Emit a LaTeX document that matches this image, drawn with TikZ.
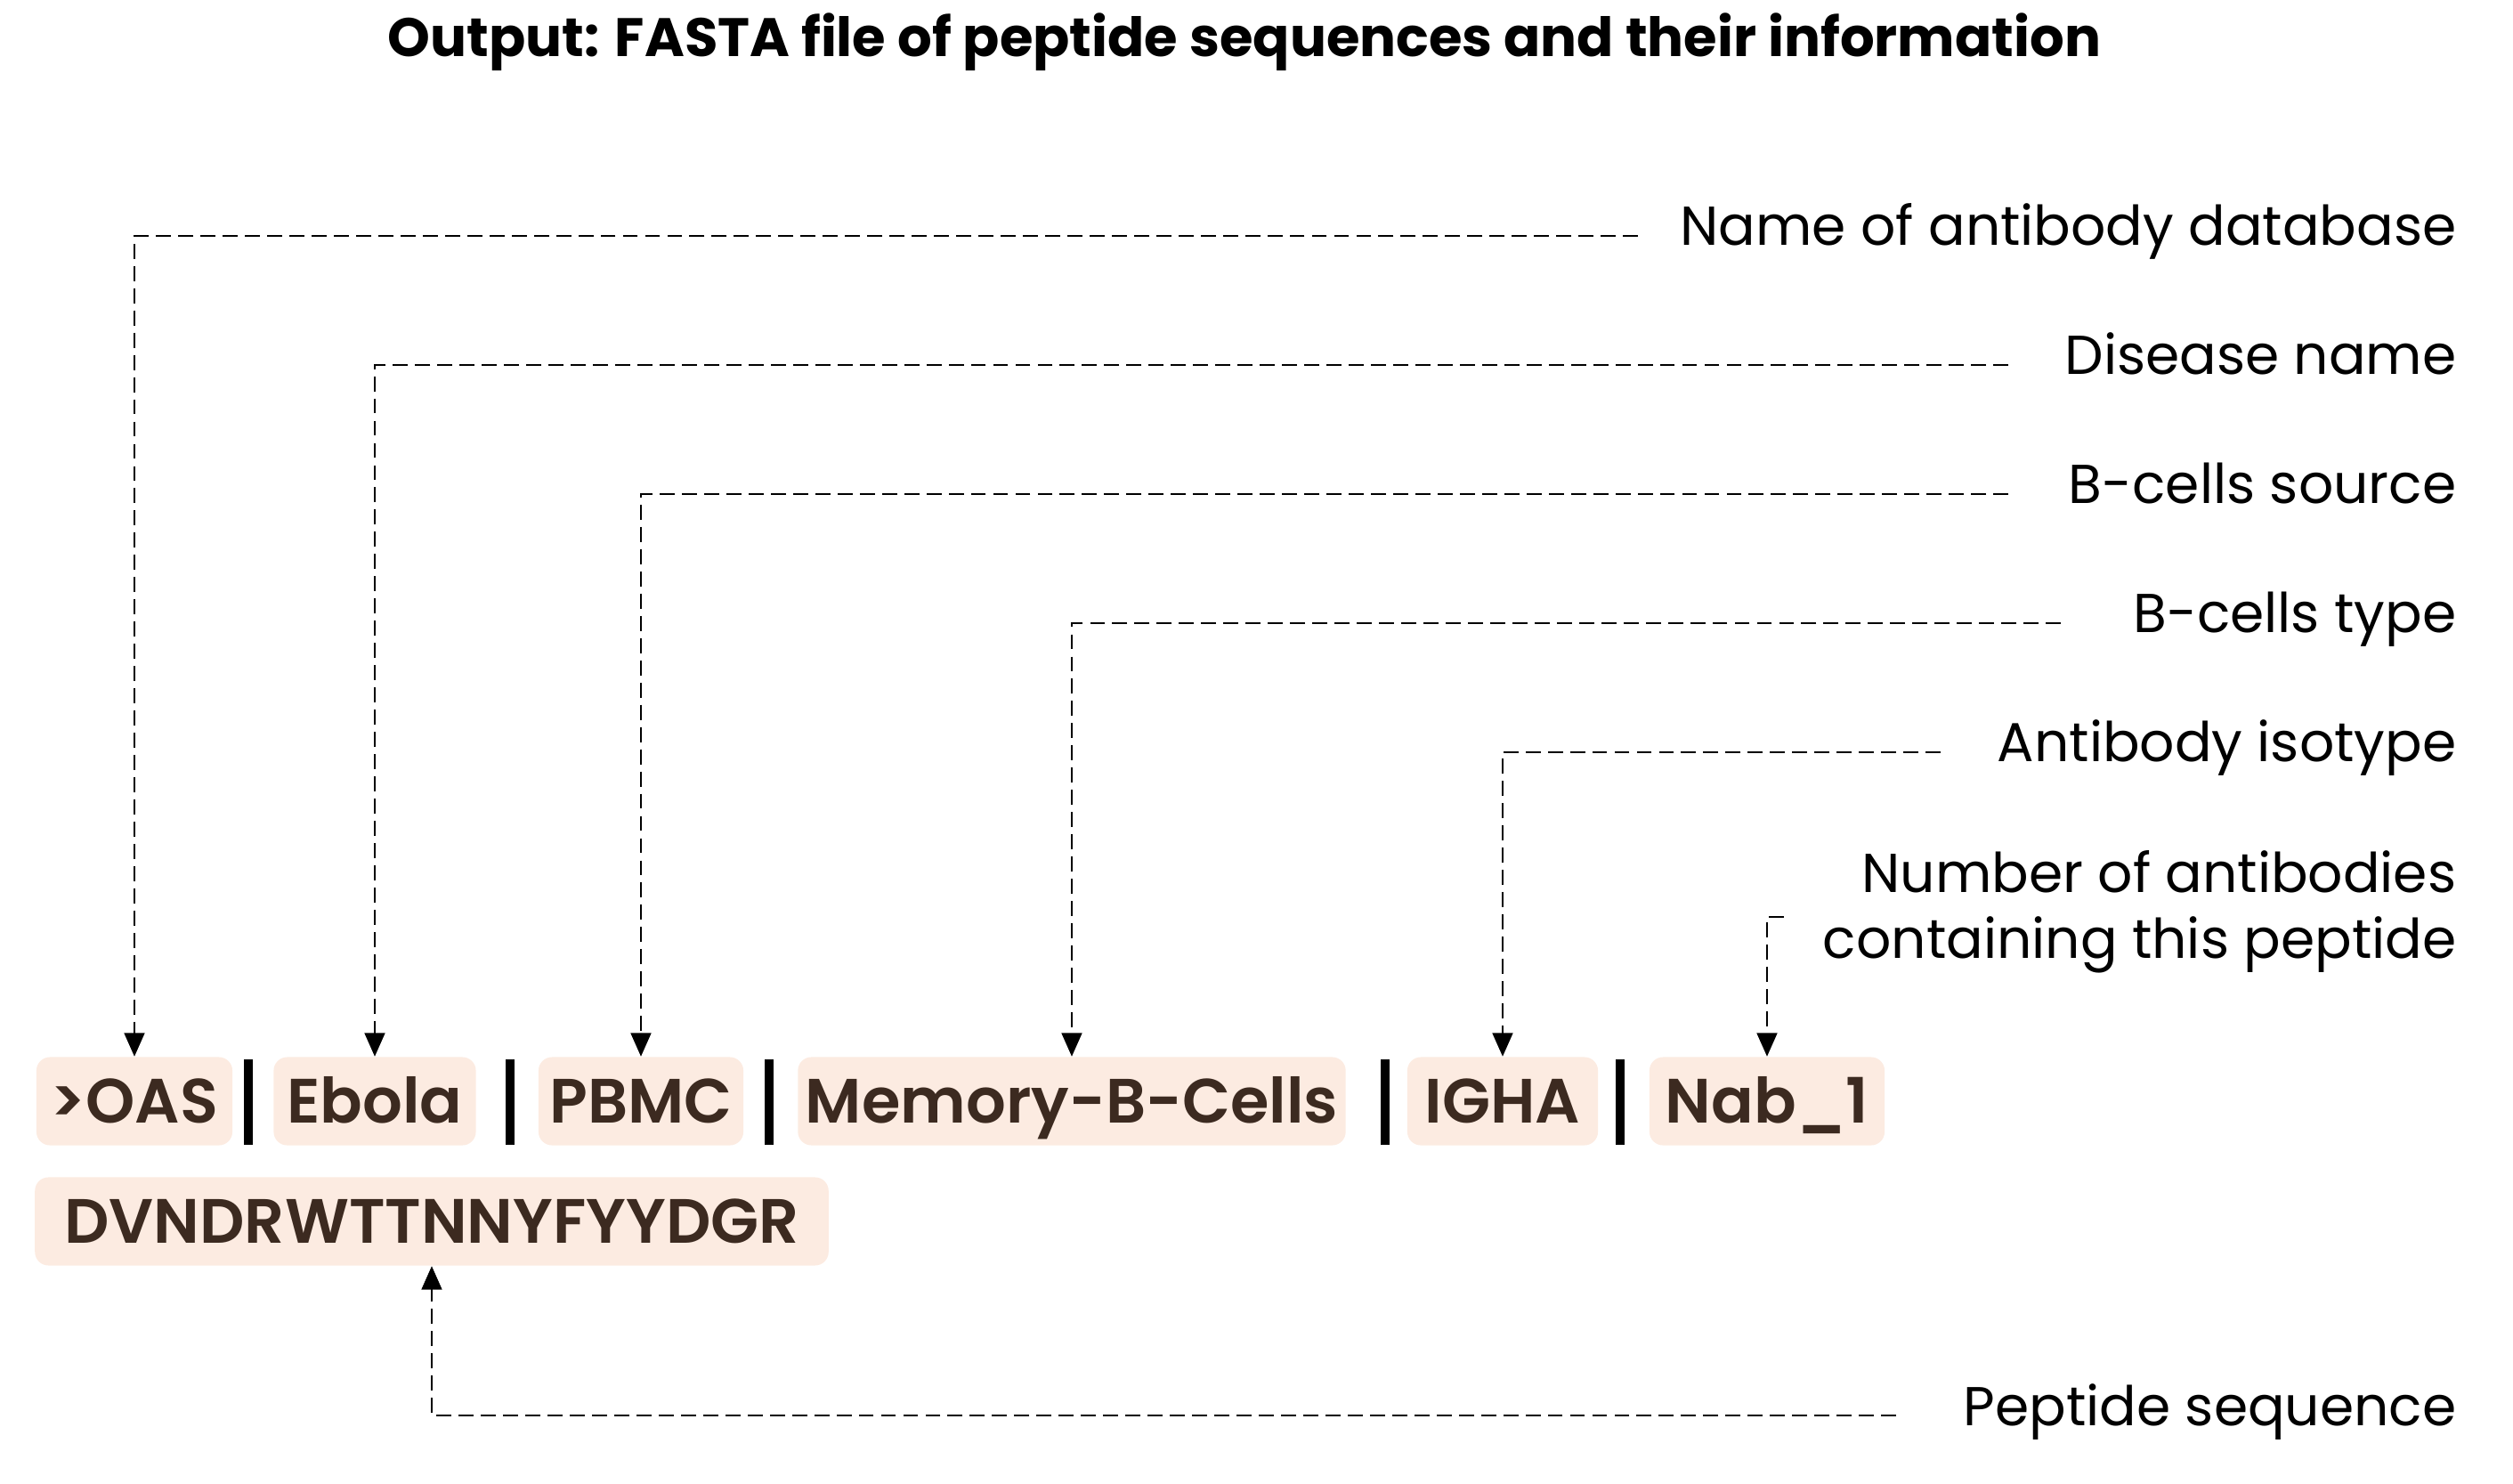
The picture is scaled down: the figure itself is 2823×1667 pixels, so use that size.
\documentclass[tikz,border=0pt]{standalone}
\usepackage{fontspec}
\setmainfont{Poppins}
\newfontfamily\semibold{Poppins}[UprightFont=* SemiBold]
\usepackage{xcolor}
\usetikzlibrary{arrows.meta,positioning,calc}
\definecolor{peach}{HTML}{FCEBE1}
\definecolor{cocoa}{HTML}{3C2A20}

\begin{document}
\begin{tikzpicture}[
    x=0.01cm, y=-0.01cm,
    >={Triangle[width=6.5pt,length=7.5pt]},
    field/.style={fill=peach, rounded corners=4.3pt, text=cocoa, font=\fontsize{20}{24}\semibold, minimum width=#1, minimum height=0.99cm, text height=14pt, text depth=0pt, inner xsep=0pt},
    lbl/.style={anchor=base east, font=\fontsize{17.5}{21}\selectfont, inner sep=0pt},
    ttl/.style={font=\fontsize{17.3}{20}\selectfont\bfseries},
    link/.style={draw=black, dash pattern=on 4.8pt off 2.3pt, line width=0.6pt, ->},
    bar/.style={line width=2.8pt}
]
\useasboundingbox (0,0) rectangle (2823,1667);

\node[ttl] (title) at (1398,47) {Output: FASTA file of peptide sequences and their information};

% fields of the FASTA header
\node[field=2.2cm] (oas) at (151,1237) {>OAS};
\node[field=2.27cm] (ebola) at (421,1237) {Ebola};
\node[field=2.3cm] (pbmc) at (720,1237) {PBMC};
\node[field=6.15cm] (memory) at (1204,1237) {Memory-B-Cells};
\node[field=2.14cm] (igha) at (1688,1237) {IGHA};
\node[field=2.64cm] (nab) at (1985,1237) {Nab\_1};
\node[field=8.91cm] (seq) at (485,1372) {DVNDRWTTNNYFYYDGR};

\foreach \bx in {279,573,864,1556,1820}
  \draw[bar] (\bx,1190) -- (\bx,1286);

% explanations
\node[lbl] (dbname) at (2760,276) {Name of antibody database};
\node[lbl] (disease) at (2760,421) {Disease name};
\node[lbl] (source) at (2760,566) {B-cells source};
\node[lbl] (celltype) at (2760,711) {B-cells type};
\node[lbl] (isotype) at (2760,856) {Antibody isotype};
\node[lbl, anchor=east, align=right] (count) at (2760,1024) {Number of antibodies\\containing this peptide};
\node[lbl] (peptide) at (2760,1601) {Peptide sequence};

\coordinate (dbname-end) at (1840,265);
\coordinate (disease-end) at (2256,410);
\coordinate (source-end) at (2256,555);
\coordinate (celltype-end) at (2315,700);
\coordinate (isotype-end) at (2180,845);
\coordinate (count-end) at (2004,1030);
\coordinate (peptide-end) at (2130,1590);

\draw[link] (dbname-end) -| (oas.north);
\draw[link] (disease-end) -| (ebola.north);
\draw[link] (source-end) -| (pbmc.north);
\draw[link] (celltype-end) -| (memory.north);
\draw[link] (isotype-end) -| (igha.north);
\draw[link] (count-end) -| (nab.north);
\draw[link] (peptide-end) -| (seq.south);
\end{tikzpicture}
\end{document}
